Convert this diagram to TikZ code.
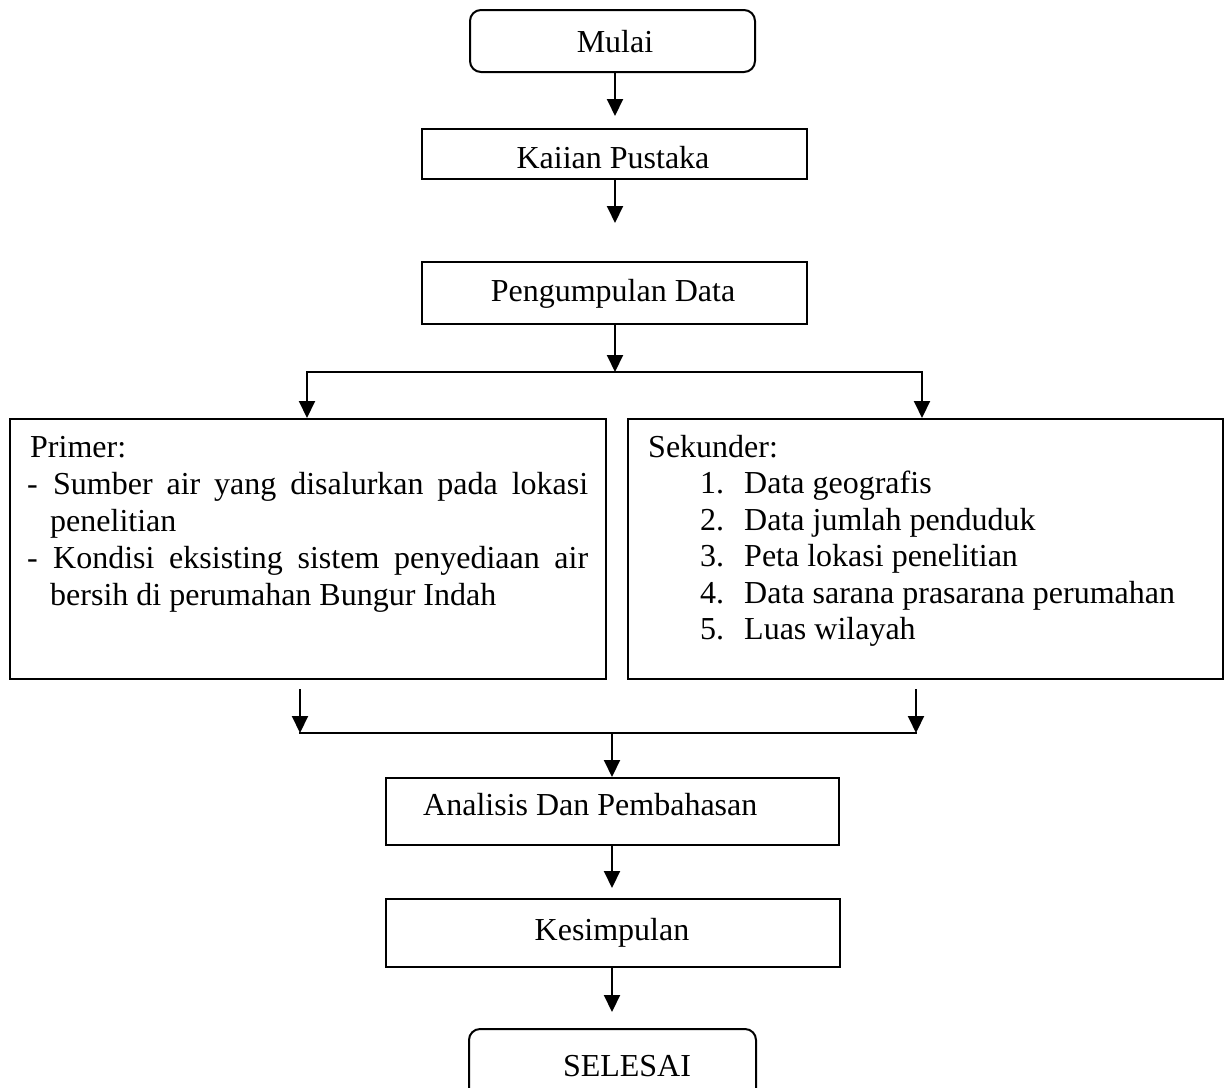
\documentclass[tikz,border=0pt]{standalone}
\usepackage{fontspec}
\setmainfont{Liberation Serif}
\usetikzlibrary{arrows.meta}
\begin{document}
\begin{tikzpicture}[x=1pt,y=-1pt,
  box/.style={draw, line width=2pt, inner sep=0pt, anchor=north west},
  rbox/.style={box, rounded corners=11pt},
  txt/.style={inner sep=0pt, font=\fontsize{32}{37}\selectfont},
  flow/.style={line width=2pt, -{Triangle[width=16pt,length=17pt]}},
  ln/.style={line width=2pt, line cap=rect}]
\path[use as bounding box] (0,0) rectangle (1230,1087);
\clip (0,0) rectangle (1230,1087);

% boxes
\node[rbox, minimum width=285pt, minimum height=62pt] (mulai) at (469,9) {};
\node[box, minimum width=385pt, minimum height=50pt] (kajian) at (421,128) {};
\node[box, minimum width=385pt, minimum height=62pt] (kumpul) at (421,261) {};
\node[box, minimum width=596pt, minimum height=260pt] (primer) at (9,418) {};
\node[box, minimum width=595pt, minimum height=260pt] (sekunder) at (627,418) {};
\node[box, minimum width=453pt, minimum height=67pt] (analisis) at (385,777) {};
\node[box, minimum width=454pt, minimum height=68pt] (simpul) at (385,898) {};
\node[rbox, minimum width=287pt, minimum height=80pt] (selesai) at (468,1028) {};

% texts
\node[txt, anchor=base] (tmulai) at (615,52) {Mulai};
\node[txt, anchor=base] (tkajian) at (613,168) {Kaiian Pustaka};
\node[txt, anchor=base] (tkumpul) at (613,301) {Pengumpulan Data};
\node[txt, anchor=base west] (tanalisis) at (423,815) {Analisis Dan Pembahasan};
\node[txt, anchor=base] (tsimpul) at (612,940) {Kesimpulan};
\node[txt, anchor=base] (tselesai) at (627,1076) {SELESAI};

% primer
\node[txt, anchor=base west] (p0) at (30,457) {Primer:};
\node[txt, anchor=base west] (p1d) at (27,494) {-};
\node[txt, anchor=base west] (p1) at (53,494) {\makebox[535pt][s]{Sumber air yang disalurkan pada lokasi}};
\node[txt, anchor=base west] (p2) at (50,531) {penelitian};
\node[txt, anchor=base west] (p3d) at (27,568) {-};
\node[txt, anchor=base west] (p3) at (53,568) {\makebox[535pt][s]{Kondisi eksisting sistem penyediaan air}};
\node[txt, anchor=base west] (p4) at (50,605) {bersih di perumahan Bungur Indah};

% sekunder
\node[txt, anchor=base west] (s0) at (648,457) {Sekunder:};
\node[txt, anchor=base west] (s1n) at (700,493.5) {1.};
\node[txt, anchor=base west] (s1) at (744,493.5) {Data geografis};
\node[txt, anchor=base west] (s2n) at (700,530) {2.};
\node[txt, anchor=base west] (s2) at (744,530) {Data jumlah penduduk};
\node[txt, anchor=base west] (s3n) at (700,566.5) {3.};
\node[txt, anchor=base west] (s3) at (744,566.5) {Peta lokasi penelitian};
\node[txt, anchor=base west] (s4n) at (700,603) {4.};
\node[txt, anchor=base west] (s4) at (744,603) {Data sarana prasarana perumahan};
\node[txt, anchor=base west] (s5n) at (700,639.5) {5.};
\node[txt, anchor=base west] (s5) at (744,639.5) {Luas wilayah};

% coordinates
\coordinate (ax) at (615,0);
\coordinate (split) at (615,372);
\coordinate (sl) at (307,372);
\coordinate (sr) at (922,372);
\coordinate (jl) at (300,733);
\coordinate (jr) at (916,733);
\coordinate (jm) at (612,733);

% connectors
\draw[flow, shorten >=12pt] (mulai.south -| ax) -- (kajian.north -| ax);
\draw[flow, shorten >=38pt] (kajian.south -| ax) -- (kumpul.north -| ax);
\draw[flow] (kumpul.south -| ax) -- (split);
\draw[ln] (sl) -- (sr);
\draw[flow] (sl) -- (primer.north -| sl);
\draw[flow] (sr) -- (sekunder.north -| sr);
\draw[flow, shorten <=9pt] (primer.south -| jl) -- (jl);
\draw[flow, shorten <=9pt] (sekunder.south -| jr) -- (jr);
\draw[ln] (jl) -- (jr);
\draw[flow] (jm) -- (analisis.north -| jm);
\draw[flow, shorten >=10pt] (analisis.south -| jm) -- (simpul.north -| jm);
\draw[flow, shorten >=16pt] (simpul.south -| jm) -- (selesai.north -| jm);
\end{tikzpicture}
\end{document}
